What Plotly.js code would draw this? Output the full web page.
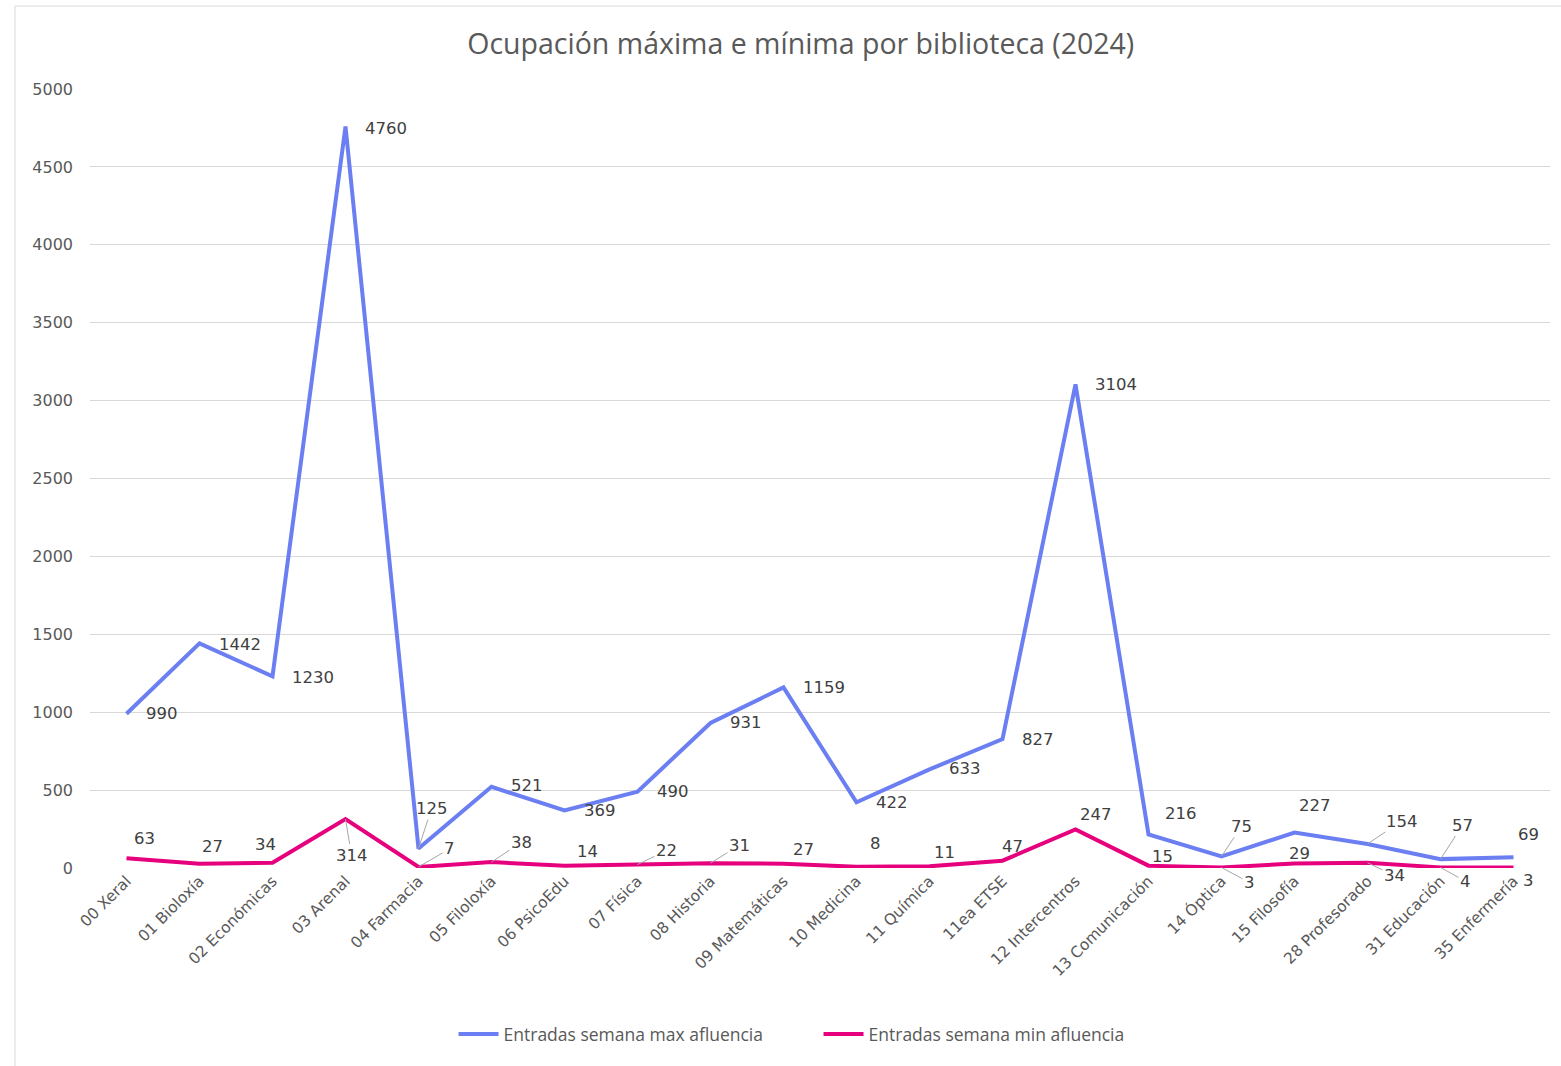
<!DOCTYPE html>
<html>
<head>
<meta charset="utf-8">
<script src="https://cdn.plot.ly/plotly-3.0.1.min.js"></script>
<style>html,body{margin:0;padding:0;background:#fff;}#chart{width:1561px;height:1066px;}</style>
</head>
<body>
<div id="chart"></div>
<script>
const categories = ["00 Xeral","01 Bioloxía","02 Económicas","03 Arenal","04 Farmacia","05 Filoloxía","06 PsicoEdu","07 Física","08 Historia","09 Matemáticas","10 Medicina","11 Química","11ea ETSE","12 Intercentros","13 Comunicación","14 Óptica","15 Filosofía","28 Profesorado","31 Educación","35 Enfermería"];
const maxValues = [990,1442,1230,4760,125,521,369,490,931,1159,422,633,827,3104,216,75,227,154,57,69];
const minValues = [63,27,34,314,7,38,14,22,31,27,8,11,47,247,15,3,29,34,4,3];
const seriesNames = ["Entradas semana max afluencia","Entradas semana min afluencia"];
const yTicks = [0,500,1000,1500,2000,2500,3000,3500,4000,4500,5000];

// label offsets (pixels) [dx, dy, leader]
const maxOff = [[35,0,0],[40,1,0],[40,1,0],[40,2,0],[13,-40,1],[35,-1,0],[35,0,0],[35,0,0],[35,0,0],[40,0,0],[35,0,0],[35,-1,0],[35,0,0],[40,0,0],[32,-21,0],[20,-30,1],[20,-27,0],[34,-23,1],[22,-34,1],[15,-23,0]];
const minOff = [[18,-20,0],[13,-17,0],[-7,-18,0],[6,36,1],[31,-18,1],[30,-20,1],[23,-14,0],[29,-14,1],[29,-18,1],[20,-14,0],[19,-23,0],[15,-14,0],[10,-14,0],[20,-15,0],[14,-9,0],[28,15,1],[5,-10,0],[27,13,1],[25,14,1],[15,13,0]];

const colMax = "#6b7ff2";
const colMin = "#e6007e";

const traces = [
  {x: categories, y: maxValues, name: seriesNames[0], type: "scatter", mode: "lines",
   line: {color: colMax, width: 4}},
  {x: categories, y: minValues, name: seriesNames[1], type: "scatter", mode: "lines",
   line: {color: colMin, width: 4}}
];

function mkAnn(vals, offs) {
  return vals.map((v, i) => ({
    x: categories[i], y: v, xref: "x", yref: "y",
    text: String(v), showarrow: true, arrowhead: 0, arrowwidth: 1,
    arrowcolor: offs[i][2] ? "#a6a6a6" : "rgba(0,0,0,0)",
    ax: offs[i][0], ay: offs[i][1], standoff: 0,
    font: {family: "DejaVu Sans, sans-serif", size: 16.5, color: "#404040"}
  }));
}

const annotations = mkAnn(maxValues, maxOff).concat(mkAnn(minValues, minOff));

const plotW = 1460, plotL = 90, plotT = 89, plotH = 779;
const layout = {
  width: 1561, height: 1066,
  paper_bgcolor: "#ffffff", plot_bgcolor: "#ffffff",
  margin: {l: plotL, r: 1561 - plotL - plotW, t: plotT, b: 1066 - plotT - plotH},
  title: {text: "Ocupación máxima e mínima por biblioteca (2024)",
    font: {family: "Open Sans, sans-serif", size: 28.5, color: "#595959"},
    x: 0.513, xanchor: "center", y: 0.959, yanchor: "middle"},
  xaxis: {type: "category", range: [-0.5, categories.length - 0.5], tickangle: -45,
    showgrid: false, zeroline: false, showline: false, ticks: "",
    tickfont: {family: "DejaVu Sans, sans-serif", size: 15.5, color: "#595959"}},
  yaxis: {range: [0, 5000], tickvals: yTicks, ticktext: yTicks.map(String),
    showgrid: true, gridcolor: "#d9d9d9", gridwidth: 1, zeroline: false, showline: false,
    ticks: "", ticklabelstandoff: 16,
    tickfont: {family: "DejaVu Sans, sans-serif", size: 16, color: "#595959"}},
  showlegend: true,
  legend: {orientation: "h", x: 0.499, xanchor: "center", y: -(1034 - plotT - plotH) / plotH, yanchor: "middle",
    font: {family: "Open Sans, sans-serif", size: 17.5, color: "#595959"},
    itemwidth: 40, traceorder: "normal", entrywidth: 310, entrywidthmode: "pixels"},
  annotations: annotations,
  shapes: [{type: "rect", xref: "paper", yref: "paper",
    x0: (15 - plotL) / plotW, x1: (1600 - plotL) / plotW,
    y0: -(1100 - plotT - plotH) / plotH, y1: 1 + (plotT - 6) / plotH,
    line: {color: "#d9d9d9", width: 1}, fillcolor: "rgba(0,0,0,0)", layer: "below"}]
};

Plotly.newPlot("chart", traces, layout, {displayModeBar: false, staticPlot: true});
</script>
</body>
</html>
